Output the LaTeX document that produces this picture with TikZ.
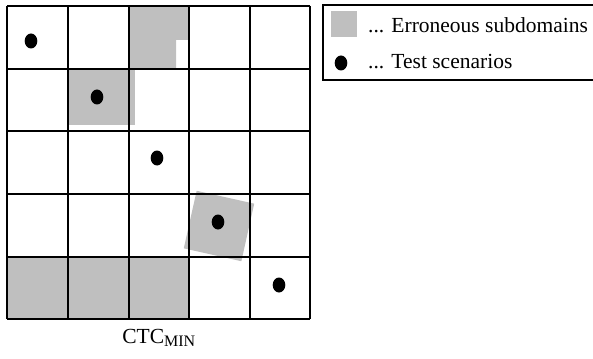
\documentclass[tikz,border=0pt]{standalone}
\usepackage{fontspec}
\setmainfont{Liberation Serif}
\definecolor{errgray}{RGB}{191,191,191}
\begin{document}
\begin{tikzpicture}[x=1pt,y=-1pt,
  err/.style={fill=errgray,draw=none},
  dot/.style={fill=black,draw=none},
  gridline/.style={line width=1.8pt,black},
  txt/.style={font=\fontsize{21.5}{25}\selectfont}]
\useasboundingbox (0,0) rectangle (593,358);
% gray subdomains
\fill[errgray] (129,6) -- (189,6) -- (189,40) -- (176,40) -- (176,69) -- (129,69) -- cycle;
\fill[errgray] (68,69) rectangle (135,125);
\fill[errgray] (7,257) rectangle (189,319);
\node[err,minimum size=59pt,inner sep=0pt,rotate=-12.6] (rot) at (219,226) {};
% grid
\foreach \x in {7,68,129,189,250,310} \draw[gridline] (\x,6) -- (\x,319);
\foreach \y in {6,69,131,194,257,319} \draw[gridline] (7,\y) -- (310,\y);
% test scenarios
\foreach \p in {(31,41),(97,97),(157,158),(218,222),(279,285)}
  \fill[black] \p ellipse [x radius=6.3pt, y radius=7.5pt];
% caption
\node[txt] (cap) at (159,338) {CTC\textsubscript{\fontsize{16}{18}\selectfont MIN}};
% legend
\draw[line width=1.3pt] (323,5) rectangle (600,80);
\node[err,minimum size=26pt,inner sep=0pt] (lsq) at (344,24) {};
\fill[black] (341,63) ellipse [x radius=6.3pt, y radius=7.5pt];
\node[txt,anchor=west,inner sep=0pt] (l1) at (368,25) {... Erroneous subdomains};
\node[txt,anchor=west,inner sep=0pt] (l2) at (368,62) {... Test scenarios};
\end{tikzpicture}
\end{document}
